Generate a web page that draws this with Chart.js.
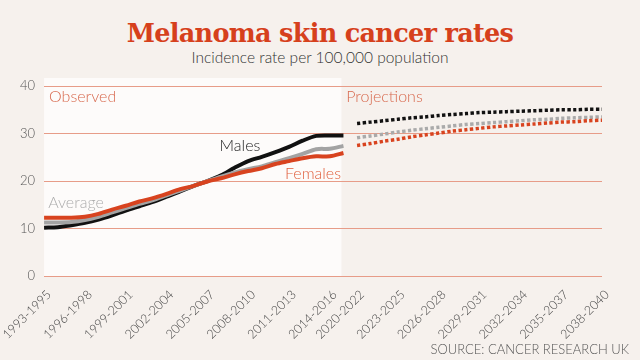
<!DOCTYPE html>
<html>
<head>
<meta charset="utf-8">
<script src="https://cdn.jsdelivr.net/npm/chart.js@4"></script>
<style>
  body { margin: 0; background: #f6f1ed; }
  .wrap { position: relative; width: 640px; height: 360px; overflow: hidden; }
  h1 { position: absolute; top: 18px; left: 0; width: 640px; margin: 0; text-align: center;
       font: bold 25.5px "DejaVu Serif", serif; letter-spacing: -0.7px; color: #d6401c; }
  .sub { position: absolute; top: 48px; left: 0; width: 640px; text-align: center;
         font: 300 15.5px Lato, sans-serif; color: #333; }
  .source { position: absolute; right: 11px; top: 341px;
            font: 300 13px Lato, sans-serif; color: #555; }
  canvas { position: absolute; left: 0; top: 0; }
</style>
</head>
<body>
<div class="wrap">
  <h1>Melanoma skin cancer rates</h1>
  <div class="sub">Incidence rate per 100,000 population</div>
  <canvas class="chart-1" width="640" height="360"></canvas>
  <div class="source">SOURCE: CANCER RESEARCH UK</div>
</div>
<script>
// start years of each 3-year period
const observedStarts = [1993, 1994, 1995, 1996, 1997, 1998, 1999, 2000, 2001, 2002, 2003, 2004,
    2005, 2006, 2007, 2008, 2009, 2010, 2011, 2012, 2013, 2014, 2015];
const projectedStarts = [2020, 2021, 2022, 2023, 2024, 2025, 2026, 2027, 2028, 2029, 2030,
    2031, 2032, 2033, 2034, 2035, 2036, 2037, 2038];

const tickLabels = ['1993-1995', '1996-1998', '1999-2001', '2002-2004', '2005-2007', '2008-2010',
    '2011-2013', '2014-2016', '2020-2022', '2023-2025', '2026-2028', '2029-2031', '2032-2034',
    '2035-2037', '2038-2040'];

const malesObserved = [10.2, 10.3, 10.7, 11.2, 11.9, 12.8, 13.8, 14.7, 15.6, 16.7, 17.8, 19.0,
    20.0, 21.2, 22.8, 24.2, 25.1, 26.1, 27.2, 28.5, 29.5, 29.6, 29.6];
const femalesObserved = [12.3, 12.3, 12.3, 12.5, 13.1, 14.0, 14.8, 15.7, 16.4, 17.3, 18.3, 19.0,
    19.9, 20.6, 21.4, 22.1, 22.7, 23.6, 24.2, 24.8, 25.2, 25.2, 25.9];
const averageObserved = [11.3, 11.3, 11.4, 11.8, 12.5, 13.4, 14.3, 15.2, 16.0, 17.0, 18.0, 19.0,
    20.0, 20.9, 21.8, 22.5, 23.1, 24.0, 24.8, 25.7, 26.7, 26.8, 27.4];

const malesProjected = [32.1, 32.4, 32.7, 33.0, 33.3, 33.5, 33.8, 34.0, 34.2, 34.4, 34.5, 34.6,
    34.7, 34.8, 34.9, 35.0, 35.0, 35.1, 35.1];
const femalesProjected = [27.5, 27.9, 28.4, 28.8, 29.3, 29.7, 30.1, 30.5, 30.8, 31.1, 31.4, 31.6,
    31.8, 32.0, 32.2, 32.4, 32.5, 32.7, 32.8];
const averageProjected = [29.1, 29.5, 29.9, 30.3, 30.7, 31.0, 31.3, 31.6, 31.9, 32.1, 32.3, 32.5,
    32.7, 32.9, 33.0, 33.2, 33.3, 33.4, 33.5];

const periods = observedStarts.concat(projectedStarts).map(y => y + '-' + (y + 2));
const nObs = observedStarts.length;
const nProj = projectedStarts.length;

function observed(values) {
    return values.concat(Array(nProj).fill(null));
}
function projected(values) {
    return Array(nObs).fill(null).concat(values);
}

const RED = '#d8431f';
const GREY = '#a3a3a3';
const BLACK = '#111111';

// white panel behind the observed part
const observedPanel = {
    id: 'observedPanel',
    beforeDraw(chart) {
        const { ctx, chartArea, scales } = chart;
        const right = scales.x.getPixelForValue(nObs - 1) - 2;
        ctx.save();
        ctx.fillStyle = '#fdfbfa';
        ctx.fillRect(chartArea.left, chartArea.top - 8, right - chartArea.left, chartArea.bottom - chartArea.top + 8);
        ctx.restore();
    }
};

// text labels on the plot
const notes = [
    { text: 'Observed', x: 0.37, y: 37.7, color: '#d86a4f' },
    { text: 'Projections', x: 22.2, y: 37.7, color: '#d86a4f' },
    { text: 'Males', x: 12.9, y: 27.5, color: '#222222' },
    { text: 'Females', x: 17.7, y: 21.6, color: '#e0603e' },
    { text: 'Average', x: 0.3, y: 15.4, color: '#adadad' }
];
const noteLabels = {
    id: 'noteLabels',
    afterDatasetsDraw(chart) {
        const { ctx, scales } = chart;
        ctx.save();
        ctx.font = '300 16px Lato, sans-serif';
        ctx.textBaseline = 'middle';
        ctx.textAlign = 'left';
        notes.forEach(n => {
            ctx.fillStyle = n.color;
            ctx.fillText(n.text, scales.x.getPixelForValue(n.x), scales.y.getPixelForValue(n.y));
        });
        ctx.restore();
    }
};

function line(data, color, dashed) {
    return {
        data: data,
        borderColor: color,
        borderWidth: dashed ? 3.5 : 4,
        borderDash: dashed ? [3.3, 2.4] : [],
        borderCapStyle: 'butt',
        pointRadius: 0,
        tension: 0.3,
        fill: false
    };
}

new Chart(document.querySelector('.chart-1'), {
    type: 'line',
    data: {
        labels: periods,
        datasets: [
            line(observed(femalesObserved), RED, false),
            line(observed(averageObserved), GREY, false),
            line(observed(malesObserved), BLACK, false),
            line(projected(femalesProjected), RED, true),
            line(projected(averageProjected), '#aaaaaa', true),
            line(projected(malesProjected), BLACK, true)
        ]
    },
    options: {
        responsive: false,
        animation: false,
        layout: { padding: { top: 86, left: 11, right: 38, bottom: 15 } },
        plugins: {
            legend: { display: false },
            tooltip: { enabled: false }
        },
        scales: {
            x: {
                grid: { display: false },
                border: { display: false },
                afterFit: scale => { scale.paddingLeft = 0; scale.paddingRight = 0; },
                ticks: {
                    autoSkip: false,
                    minRotation: 45,
                    maxRotation: 45,
                    padding: 3,
                    labelOffset: 5,
                    color: '#444',
                    font: { family: 'Lato', weight: '300', size: 12.5 },
                    callback: function (value) {
                        const label = this.getLabelForValue(value);
                        return tickLabels.includes(label) ? label : '';
                    }
                }
            },
            y: {
                min: 0,
                max: 40,
                border: { display: false },
                grid: { color: '#e79c88', lineWidth: 1, drawTicks: false },
                ticks: {
                    stepSize: 10,
                    padding: 9,
                    color: '#555',
                    font: { family: 'Lato', weight: '300', size: 13 }
                }
            }
        }
    },
    plugins: [observedPanel, noteLabels]
});
</script>
</body>
</html>
